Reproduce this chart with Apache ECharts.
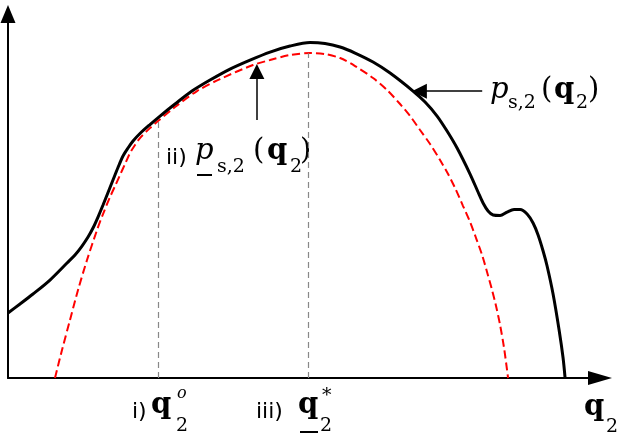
<!DOCTYPE html>
<html>
<head>
<meta charset="utf-8">
<script src="https://cdn.jsdelivr.net/npm/echarts@6/dist/echarts.min.js"></script>
<style>
  html, body { margin: 0; padding: 0; background: #fff; }
  #chart { width: 623px; height: 442px; }
</style>
</head>
<body>
<div id="chart"></div>
<script>
// upper curve p_s,2(q2) -- solid black
var upperCurve = [
  [0, 17.43], [1.99, 19.84], [4.14, 22.52], [6.95, 26.27], [9.77, 30.83], [11.09, 32.98],
  [12.25, 35.39], [13.25, 37.8], [14.07, 40.21], [14.9, 43.16], [15.73, 46.38], [16.56, 49.73],
  [17.38, 53.08], [18.21, 56.43], [19.04, 59.52], [19.87, 61.66], [20.7, 63.54], [21.85, 65.55],
  [23.51, 67.96], [25.17, 70.24], [27.65, 73.46], [30.46, 76.94], [33.44, 79.89], [36.75, 82.84],
  [40.07, 85.25], [43.38, 87.4], [46.69, 89.01], [50.0, 89.95], [52.48, 89.68], [54.97, 88.74],
  [57.45, 87.13], [60.43, 84.72], [63.25, 81.77], [67.05, 76.94], [69.04, 73.99], [71.03, 70.24],
  [72.68, 66.22], [74.34, 61.66], [76.49, 54.69], [77.81, 49.87], [78.64, 46.92], [79.47, 44.77],
  [80.3, 43.7], [81.46, 43.57], [82.62, 44.5], [83.77, 45.17], [84.77, 45.17], [85.93, 43.97],
  [86.92, 41.55], [87.75, 38.34], [88.58, 34.05], [89.24, 30.03], [90.23, 22.52], [91.23, 12.87],
  [91.89, 5.36], [92.22, 0]
];
// lower curve (underlined p) -- red dashed
var lowerCurve = [
  [7.78, 0], [8.94, 7.51], [10.26, 15.55], [11.59, 23.59], [13.08, 31.64], [14.74, 39.68],
  [15.73, 43.97], [16.89, 48.53], [17.72, 51.47], [18.54, 54.42], [19.37, 57.37], [20.2, 60.32],
  [21.03, 62.47], [21.85, 64.34], [23.51, 67.02], [24.83, 68.9], [27.65, 72.65], [31.29, 76.94],
  [35.1, 80.16], [40.56, 83.91], [43.38, 85.25], [46.69, 86.6], [50.0, 87.13], [52.48, 86.86],
  [54.97, 85.79], [57.45, 83.65], [60.43, 80.43], [62.75, 77.21], [64.9, 73.46], [66.56, 70.24],
  [68.21, 66.49], [69.87, 62.73], [71.52, 58.45], [72.85, 54.69], [74.01, 50.94], [75.33, 46.11],
  [76.49, 41.82], [77.48, 37.53], [78.48, 32.98], [79.3, 28.42], [80.13, 23.59], [80.79, 19.3],
  [81.46, 14.21], [82.12, 8.04], [82.78, 0]
];
// q2^o and q2^* guide lines
var markerX = [24.8, 49.7];
var markerTop = [68.9, 87.1];
// annotation arrows [from, to]
var arrows = [
  [[41.2, 69.2], [41.2, 82.2]],
  [[78.5, 76.9], [68.1, 76.9]]
];

var SERIF = '"DejaVu Serif", "Liberation Serif", serif';
var SANS = '"DejaVu Sans", "Liberation Sans", sans-serif';

// text piece, y given as baseline
function t(str, x, base, size, opt) {
  opt = opt || {};
  return {
    type: 'text', x: x, y: base - size * 0.34, silent: true,
    style: {
      text: str, fill: '#000', fontSize: size,
      fontFamily: opt.sans ? SANS : SERIF,
      fontStyle: opt.italic ? 'italic' : 'normal',
      fontWeight: opt.bold ? 'bold' : 'normal',
      verticalAlign: 'middle', align: 'left'
    }
  };
}
function uline(x1, x2, y) {
  return { type: 'line', silent: true, shape: { x1: x1, y1: y, x2: x2, y2: y }, style: { stroke: '#000', lineWidth: 2 } };
}

var M = 29, S = 19, L = 22;
var labels = [
  // ii) p_s,2(q2)
  t('ii)', 166, 166, L, { sans: true }),
  t('p', 195, 161, M, { italic: true }),
  uline(197, 212, 175),
  t('s,2', 217, 174, S),
  t('(', 253, 161, M),
  t('q', 267, 161, M, { bold: true }),
  t('2', 290, 174, S),
  t(')', 300, 161, M),
  // p_s,2(q2) right
  t('p', 490, 100, M, { italic: true }),
  t('s,2', 508, 110, S),
  t('(', 541, 100, M),
  t('q', 554, 100, M, { bold: true }),
  t('2', 576, 110, S),
  t(')', 588, 100, M),
  // i) q2^o
  t('i)', 132, 420, L, { sans: true }),
  t('q', 151, 415, M, { bold: true }),
  t('o', 177, 399, 16, { italic: true }),
  t('2', 176, 433, S),
  // iii) q2^*
  t('iii)', 256, 420, L, { sans: true }),
  t('q', 298, 415, M, { bold: true }),
  uline(300, 318, 432),
  t('*', 322, 403, S),
  t('2', 320, 433, S),
  // axis name
  t('q', 584, 417, M, { bold: true }),
  t('2', 606, 434, S)
];

var chart = echarts.init(document.getElementById('chart'));
chart.setOption({
  animation: false,
  backgroundColor: '#fff',
  grid: { left: 8, right: 23, top: 14, bottom: 64 },
  xAxis: {
    type: 'value', min: 0, max: 98,
    axisLine: { show: true, onZero: false, symbol: ['none', 'triangle'], symbolSize: [14, 24], lineStyle: { color: '#000', width: 2 } },
    axisTick: { show: false }, axisLabel: { show: false }, splitLine: { show: false }
  },
  yAxis: {
    type: 'value', min: 0, max: 97.6,
    axisLine: { show: true, onZero: false, symbol: ['none', 'triangle'], symbolSize: [15, 18], lineStyle: { color: '#000', width: 2 } },
    axisTick: { show: false }, axisLabel: { show: false }, splitLine: { show: false }
  },
  series: [
    {
      type: 'line', name: 'lower', data: lowerCurve, smooth: 0.3, showSymbol: false, silent: true,
      lineStyle: { color: '#ff0000', width: 2, type: [8, 4] },
      markLine: {
        silent: true, symbol: ['none', 'none'], label: { show: false },
        lineStyle: { color: '#888', width: 1.2, type: [6, 4] },
        data: markerX.map(function (x, i) { return [{ coord: [x, 0] }, { coord: [x, markerTop[i]] }]; })
      },
      z: 2
    },
    {
      type: 'line', name: 'upper', data: upperCurve, smooth: 0.3, showSymbol: false, silent: true,
      lineStyle: { color: '#000', width: 3 },
      markLine: {
        silent: true, symbol: ['none', 'triangle'], symbolSize: 15, label: { show: false },
        lineStyle: { color: '#000', width: 1.5, type: 'solid' },
        data: arrows.map(function (a) { return [{ coord: a[0] }, { coord: a[1] }]; })
      },
      z: 3
    }
  ],
  graphic: labels
});
</script>
</body>
</html>
